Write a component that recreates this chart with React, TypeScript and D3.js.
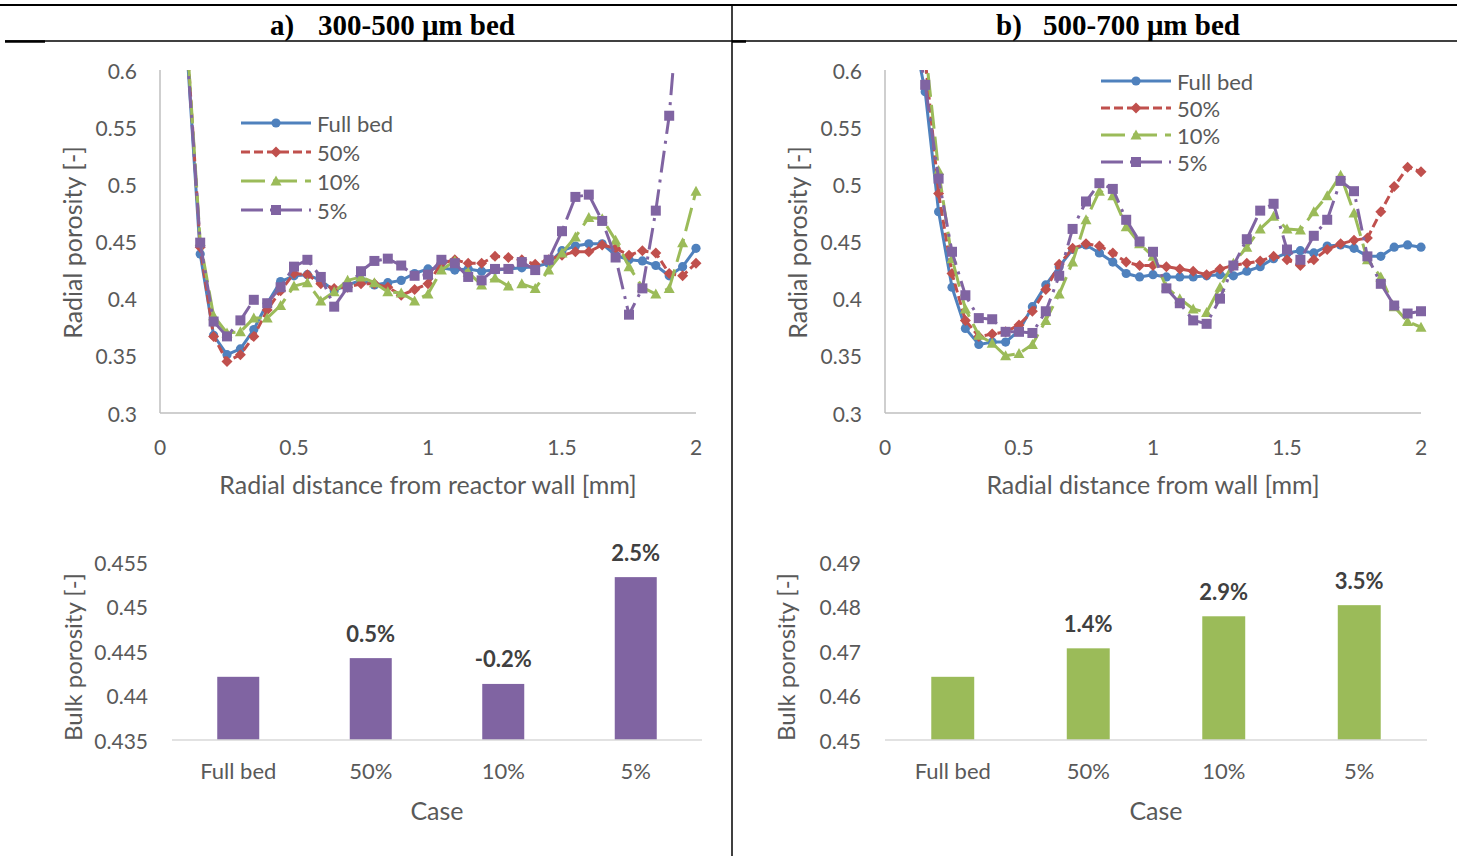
import * as d3 from "d3";

// radial positions (mm) shared by all profiles
const radialMm = [
  0.1, 0.15, 0.2, 0.25, 0.3, 0.35, 0.4, 0.45, 0.5, 0.55, 0.6, 0.65, 0.7, 0.75,
  0.8, 0.85, 0.9, 0.95, 1.0, 1.05, 1.1, 1.15, 1.2, 1.25, 1.3, 1.35, 1.4, 1.45,
  1.5, 1.55, 1.6, 1.65, 1.7, 1.75, 1.8, 1.85, 1.9, 1.95, 2.0,
];

const caseNames = ["Full bed", "50%", "10%", "5%"];

// a) 300-500 um bed, radial porosity
const smallFull = [
  0.62, 0.439, 0.368, 0.351, 0.356, 0.373, 0.396, 0.415, 0.42, 0.421, 0.416,
  0.407, 0.412, 0.416, 0.412, 0.414, 0.416, 0.422, 0.426, 0.427, 0.425, 0.426,
  0.424, 0.425, 0.426, 0.427, 0.428, 0.431, 0.442, 0.446, 0.448, 0.448, 0.438,
  0.434, 0.433, 0.429, 0.42, 0.428, 0.444,
];
const small50 = [
  0.63, 0.445, 0.367, 0.345, 0.351, 0.367, 0.39, 0.407, 0.422, 0.421, 0.413,
  0.409, 0.41, 0.413, 0.413, 0.41, 0.403, 0.408, 0.413, 0.431, 0.434, 0.431,
  0.431, 0.437, 0.436, 0.434, 0.43, 0.434, 0.438, 0.441, 0.441, 0.447, 0.444,
  0.438, 0.442, 0.44, 0.422, 0.42, 0.431,
];
const small10 = [
  0.63, 0.45, 0.385, 0.37, 0.371, 0.383, 0.383, 0.394, 0.411, 0.414, 0.398,
  0.406, 0.416, 0.419, 0.414, 0.406, 0.405, 0.398, 0.404, 0.425, 0.433, 0.423,
  0.412, 0.418, 0.411, 0.413, 0.409, 0.425, 0.44, 0.454, 0.471, 0.47, 0.451,
  0.428, 0.41, 0.404, 0.409, 0.449, 0.494,
];
const small5 = [
  0.62, 0.449, 0.38, 0.367, 0.381, 0.399, 0.396, 0.41, 0.428, 0.434, 0.419,
  0.393, 0.41, 0.424, 0.433, 0.435, 0.429, 0.42, 0.421, 0.434, 0.431, 0.419,
  0.416, 0.426, 0.426, 0.432, 0.425, 0.434, 0.459, 0.489, 0.491, 0.468, 0.436,
  0.386, 0.409, 0.477, 0.56, 0.7, 0.8,
];

// b) 500-700 um bed, radial porosity
const largeFull = [
  0.64, 0.581, 0.476, 0.41, 0.374, 0.36, 0.362, 0.362, 0.372, 0.393, 0.412,
  0.428, 0.443, 0.447, 0.44, 0.432, 0.422, 0.419, 0.421, 0.419, 0.419, 0.419,
  0.42, 0.421, 0.42, 0.424, 0.428, 0.435, 0.44, 0.442, 0.44, 0.446, 0.447,
  0.444, 0.437, 0.437, 0.445, 0.447, 0.445,
];
const large50 = [
  0.66, 0.61, 0.492, 0.422, 0.381, 0.367, 0.369, 0.371, 0.377, 0.389, 0.408,
  0.43, 0.444, 0.448, 0.446, 0.44, 0.432, 0.429, 0.429, 0.428, 0.426, 0.424,
  0.421, 0.426, 0.429, 0.431, 0.433, 0.437, 0.434, 0.429, 0.434, 0.443, 0.448,
  0.451, 0.453, 0.476, 0.498, 0.515, 0.511,
];
const large10 = [
  0.68, 0.62, 0.512, 0.435, 0.391, 0.368, 0.361, 0.35, 0.352, 0.36, 0.381,
  0.404, 0.432, 0.469, 0.494, 0.49, 0.463, 0.448, 0.437, 0.41, 0.4, 0.391,
  0.388, 0.41, 0.431, 0.445, 0.461, 0.472, 0.461, 0.46, 0.476, 0.49, 0.508,
  0.475, 0.434, 0.419, 0.393, 0.38, 0.375,
];
const large5 = [
  0.65, 0.587, 0.505, 0.441, 0.403, 0.383, 0.382, 0.371, 0.371, 0.37, 0.389,
  0.42, 0.461, 0.485, 0.501, 0.496, 0.469, 0.45, 0.441, 0.409, 0.396, 0.381,
  0.378, 0.4, 0.429, 0.452, 0.477, 0.483, 0.443, 0.434, 0.455, 0.469, 0.503,
  0.494, 0.437, 0.413, 0.394, 0.387, 0.389,
];

const porosityTicks = [0.3, 0.35, 0.4, 0.45, 0.5, 0.55, 0.6];
const radialTicks = [0, 0.5, 1, 1.5, 2];

// bulk porosity per case
const bulkSmall = [0.4421, 0.4442, 0.4413, 0.4533];
const bulkSmallLabels = ["", "0.5%", "-0.2%", "2.5%"];
const bulkSmallTicks = [0.435, 0.44, 0.445, 0.45, 0.455];
const bulkLarge = [0.4642, 0.4706, 0.4778, 0.4803];
const bulkLargeLabels = ["", "1.4%", "2.9%", "3.5%"];
const bulkLargeTicks = [0.45, 0.46, 0.47, 0.48, 0.49];

const FONT = "Lato, 'Open Sans', sans-serif";
const TXT = "#595959";
const AXIS = "#BFBFBF";

const styles = [
  { color: "#4F81BD", dash: "none", marker: "circle" },
  { color: "#C0504D", dash: "9,4", marker: "diamond" },
  { color: "#9BBB59", dash: "24,8", marker: "triangle" },
  { color: "#8064A2", dash: "22,7,3,7", marker: "square" },
];

function Marker({ kind, x, y, color }: { kind: string; x: number; y: number; color: string }) {
  if (kind === "circle") return <circle cx={x} cy={y} r={4.6} fill={color} />;
  if (kind === "square") return <rect x={x - 5} y={y - 5} width={10} height={10} fill={color} />;
  if (kind === "diamond")
    return <path d={`M${x},${y - 5.5}L${x + 5.5},${y}L${x},${y + 5.5}L${x - 5.5},${y}Z`} fill={color} />;
  return <path d={`M${x},${y - 5.5}L${x + 5.5},${y + 4.5}L${x - 5.5},${y + 4.5}Z`} fill={color} />;
}

type LineProps = {
  id: string;
  left: number;
  right: number;
  series: number[][];
  xTitle: string;
  legendX: number;
  legendY: number;
  legendStep: number;
};

function ProfileChart({ id, left, right, series, xTitle, legendX, legendY, legendStep }: LineProps) {
  const top = 70;
  const bottom = 413;
  const x = d3.scaleLinear().domain([0, 2]).range([left, right]);
  const y = d3.scaleLinear().domain([0.3, 0.6]).range([bottom, top]);
  const line = d3
    .line<number>()
    .x((_, i) => x(radialMm[i]))
    .y((d) => y(d));
  return (
    <g>
      <defs>
        <clipPath id={id}>
          <rect x={left - 8} y={top} width={right - left + 16} height={bottom - top + 8} />
        </clipPath>
      </defs>
      <line x1={left} x2={left} y1={top} y2={bottom} stroke={AXIS} strokeWidth={1.5} />
      <line x1={left} x2={right} y1={bottom} y2={bottom} stroke={AXIS} strokeWidth={1.5} />
      {porosityTicks.map((t) => (
        <text key={t} x={left - 23} y={y(t)} textAnchor="end" dominantBaseline="central" fontSize={21} fill={TXT}>
          {String(t)}
        </text>
      ))}
      {radialTicks.map((t) => (
        <text key={t} x={x(t)} y={446} textAnchor="middle" dominantBaseline="central" fontSize={21} fill={TXT}>
          {String(t)}
        </text>
      ))}
      <text x={(left + right) / 2} y={484} textAnchor="middle" dominantBaseline="central" fontSize={25} fill={TXT}>
        {xTitle}
      </text>
      <text
        transform={`translate(${left - 88},${(top + bottom) / 2 + 1}) rotate(-90)`}
        textAnchor="middle"
        dominantBaseline="central"
        fontSize={25}
        fill={TXT}
      >
        Radial porosity [-]
      </text>
      <g clipPath={`url(#${id})`}>
        {series.map((vals, si) => (
          <g key={si}>
            <path d={line(vals) ?? ""} fill="none" stroke={styles[si].color} strokeWidth={3} strokeDasharray={styles[si].dash} strokeLinejoin="round" />
            {vals.map((v, i) =>
              v <= 0.6 ? <Marker key={i} kind={styles[si].marker} x={x(radialMm[i])} y={y(v)} color={styles[si].color} /> : null
            )}
          </g>
        ))}
      </g>
      {caseNames.map((name, si) => {
        const ly = legendY + si * legendStep;
        return (
          <g key={name}>
            <line x1={legendX} x2={legendX + 70} y1={ly} y2={ly} stroke={styles[si].color} strokeWidth={3} strokeDasharray={styles[si].dash} />
            <Marker kind={styles[si].marker} x={legendX + 35} y={ly} color={styles[si].color} />
            <text x={legendX + 76} y={ly} dominantBaseline="central" fontSize={22} fill={TXT}>
              {name}
            </text>
          </g>
        );
      })}
    </g>
  );
}

type BarProps = {
  left: number;
  right: number;
  values: number[];
  labels: string[];
  ticks: number[];
  color: string;
};

function BulkChart({ left, right, values, labels, ticks, color }: BarProps) {
  const top = 562;
  const bottom = 740;
  const x = d3.scaleBand<string>().domain(caseNames).range([left, right]);
  const y = d3.scaleLinear().domain([ticks[0], ticks[ticks.length - 1]]).range([bottom, top]);
  const bw = x.bandwidth() * 0.317;
  return (
    <g>
      {ticks.map((t) => (
        <text key={t} x={left - 24} y={y(t)} textAnchor="end" dominantBaseline="central" fontSize={21} fill={TXT}>
          {String(t)}
        </text>
      ))}
      {values.map((v, i) => {
        const cx = (x(caseNames[i]) ?? 0) + x.bandwidth() / 2;
        return (
          <g key={i}>
            <rect x={cx - bw / 2} y={y(v)} width={bw} height={bottom - y(v)} fill={color} />
            {labels[i] && (
              <text x={cx} y={y(v) - 25} textAnchor="middle" dominantBaseline="central" fontSize={22} fontWeight="bold" fill="#404040">
                {labels[i]}
              </text>
            )}
            <text x={cx} y={770} textAnchor="middle" dominantBaseline="central" fontSize={22} fill={TXT}>
              {caseNames[i]}
            </text>
          </g>
        );
      })}
      <line x1={left} x2={right} y1={bottom} y2={bottom} stroke="#D9D9D9" strokeWidth={1.5} />
      <text x={(left + right) / 2} y={810} textAnchor="middle" dominantBaseline="central" fontSize={25} fill={TXT}>
        Case
      </text>
      <text
        transform={`translate(${left - 100},${657}) rotate(-90)`}
        textAnchor="middle"
        dominantBaseline="central"
        fontSize={24}
        fill={TXT}
      >
        Bulk porosity [-]
      </text>
    </g>
  );
}

export default function App() {
  return (
    <svg
      width={1463}
      height={856}
      style={{ position: "absolute", left: 0, top: 0, background: "#fff" }}
      fontFamily={FONT}
    >
      {/* table frame */}
      <line x1={0} x2={1457} y1={5} y2={5} stroke="#000" strokeWidth={2} />
      <line x1={5} x2={1457} y1={41} y2={41} stroke="#000" strokeWidth={1.5} />
      <line x1={5} x2={45} y1={41.5} y2={41.5} stroke="#000" strokeWidth={2.5} />
      <line x1={732} x2={732} y1={5} y2={856} stroke="#000" strokeWidth={1.5} />
      <line x1={732} x2={746} y1={41.5} y2={41.5} stroke="#000" strokeWidth={2.5} />
      <g fontFamily="'Liberation Serif', 'DejaVu Serif', serif" fontWeight="bold" fontSize={29} fill="#000">
        <text x={270} y={35}>a)</text>
        <text x={318} y={35}>300-500 μm bed</text>
        <text x={996} y={35}>b)</text>
        <text x={1043} y={35}>500-700 μm bed</text>
      </g>

      <ProfileChart
        id="clipA"
        left={160}
        right={696}
        series={[smallFull, small50, small10, small5]}
        xTitle="Radial distance from reactor wall [mm]"
        legendX={241}
        legendY={123}
        legendStep={29}
      />
      <ProfileChart
        id="clipB"
        left={885}
        right={1421}
        series={[largeFull, large50, large10, large5]}
        xTitle="Radial distance from wall [mm]"
        legendX={1101}
        legendY={81}
        legendStep={27}
      />
      <BulkChart left={172} right={702} values={bulkSmall} labels={bulkSmallLabels} ticks={bulkSmallTicks} color="#8064A2" />
      <BulkChart left={885} right={1427} values={bulkLarge} labels={bulkLargeLabels} ticks={bulkLargeTicks} color="#9BBB59" />
    </svg>
  );
}
